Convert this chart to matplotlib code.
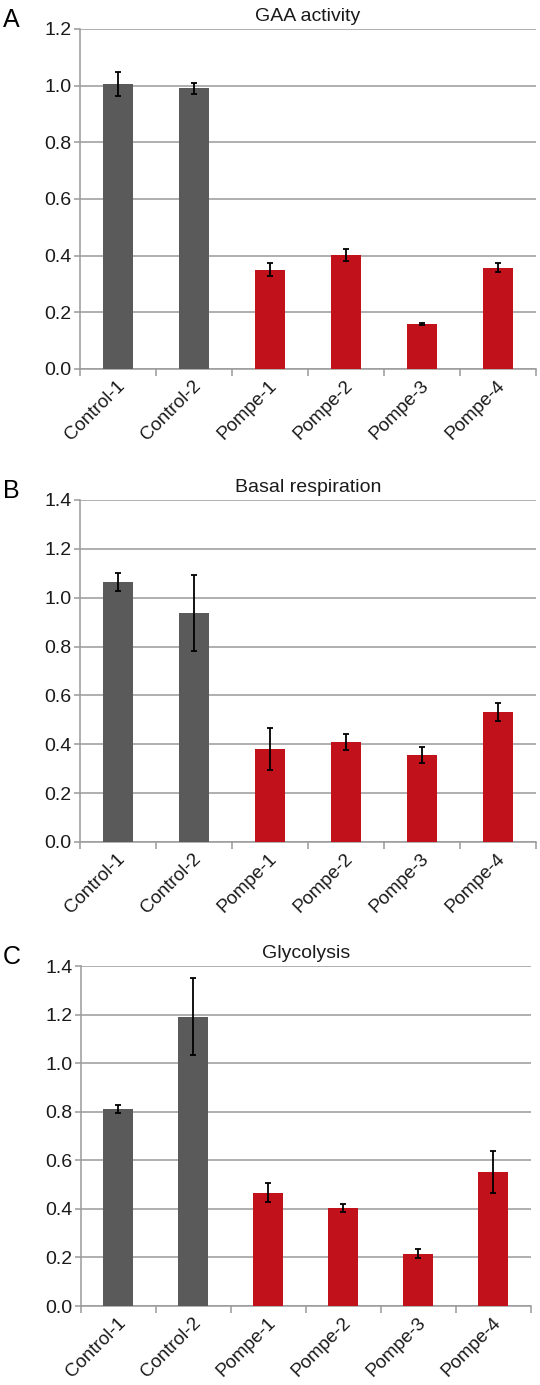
import matplotlib
matplotlib.use('Agg')
import matplotlib.pyplot as plt
import numpy as np

plt.rcParams['font.family'] = ['Liberation Sans', 'DejaVu Sans']

samples = ['Control-1', 'Control-2', 'Pompe-1', 'Pompe-2', 'Pompe-3', 'Pompe-4']
bar_colors = ['#5a5a5a', '#5a5a5a', '#c1121c', '#c1121c', '#c1121c', '#c1121c']

gaa_mean = [1.006, 0.990, 0.351, 0.402, 0.159, 0.358]
gaa_err = [0.041, 0.020, 0.022, 0.020, 0.003, 0.017]

basal_mean = [1.064, 0.937, 0.382, 0.410, 0.355, 0.531]
basal_err = [0.038, 0.157, 0.086, 0.033, 0.032, 0.037]

glyco_mean = [0.810, 1.192, 0.467, 0.405, 0.216, 0.552]
glyco_err = [0.016, 0.157, 0.038, 0.017, 0.020, 0.088]

panels = [
    ('A', 'GAA activity', gaa_mean, gaa_err, 1.2, [0.1481, 0.7336, 0.8444, 0.2455]),
    ('B', 'Basal respiration', basal_mean, basal_err, 1.4, [0.1481, 0.3921, 0.8444, 0.2469]),
    ('C', 'Glycolysis', glyco_mean, glyco_err, 1.4, [0.15, 0.0570, 0.8333, 0.2455]),
]

grid_color = '#9a9a9a'
text_color = '#1a1a1a'

fig = plt.figure(figsize=(5.4, 13.85), dpi=100)

for letter, title, mean, err, ymax, rect in panels:
    ax = fig.add_axes(rect)
    x = np.arange(len(samples))
    ax.bar(x, mean, width=0.4, color=bar_colors, zorder=3)
    ax.errorbar(x, mean, yerr=err, fmt='none', ecolor='black',
                elinewidth=1.3, capsize=2.5, capthick=1.3, zorder=4)

    ax.set_xlim(-0.5, len(samples) - 0.5)
    ax.set_ylim(0, ymax)
    ax.set_yticks(np.arange(0, ymax + 0.001, 0.2))
    ax.yaxis.set_major_formatter(matplotlib.ticker.FormatStrFormatter('%.1f'))
    ax.yaxis.grid(True, color=grid_color, linewidth=1.1, zorder=0)
    ax.set_axisbelow(True)

    # category boundary ticks like the spreadsheet original
    ax.set_xticks(np.arange(-0.5, len(samples) + 0.5, 1.0))
    ax.set_xticklabels([])
    ax.tick_params(axis='x', direction='out', length=5, color=grid_color, width=1.1)
    ax.tick_params(axis='y', direction='out', length=4, color=grid_color, width=1.1,
                   labelsize=14, pad=2, labelcolor=text_color)
    for i, name in enumerate(samples):
        ax.annotate(name, xy=(i, 0), xycoords=('data', 'axes fraction'),
                    xytext=(-1, -6), textcoords='offset points',
                    rotation=45, rotation_mode='anchor', ha='right', va='top',
                    fontsize=13.5, color=text_color)

    for side in ['top', 'right']:
        ax.spines[side].set_visible(False)
    for side in ['left', 'bottom']:
        ax.spines[side].set_color(grid_color)
        ax.spines[side].set_linewidth(1.1)

    ax.set_title(title, fontsize=14, pad=6, color=text_color)
    fig.text(0.006, rect[1] + rect[3] - 0.002, letter, fontsize=18, color='black',
             ha='left', va='bottom')

fig.savefig('out.png', dpi=100)
